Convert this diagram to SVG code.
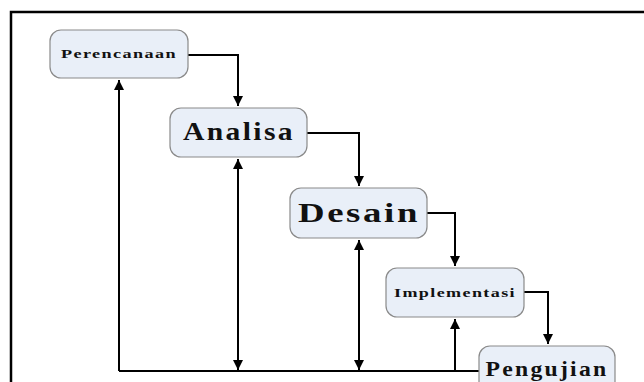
<svg xmlns="http://www.w3.org/2000/svg" width="644" height="382" viewBox="0 0 644 382">
<style>
.box{fill:#e9eff8;stroke:#8a8a8a;stroke-width:1.2}
.t{font-family:"Liberation Serif",serif;font-weight:bold;fill:#111;text-anchor:middle}
.ln{fill:none;stroke:#000;stroke-width:2}
</style>
<defs>
<marker id="ah" viewBox="0 0 10 10" refX="10" refY="5" markerWidth="5.5" markerHeight="5" orient="auto-start-reverse" markerUnits="strokeWidth">
<path d="M0,0 L10,5 L0,10 z" fill="#000"/>
</marker>
</defs>
<rect x="0" y="0" width="644" height="382" fill="#fff"/>
<path d="M11,382 V12 H644" fill="none" stroke="#000" stroke-width="2.5"/>
<g id="connectors">
<path class="ln" d="M188,55 H238 V106" marker-end="url(#ah)"/>
<path class="ln" d="M307,133 H359 V186" marker-end="url(#ah)"/>
<path class="ln" d="M427,213 H455 V266" marker-end="url(#ah)"/>
<path class="ln" d="M524,292 H548 V344" marker-end="url(#ah)"/>
<path class="ln" d="M479,371 H119"/>
<path class="ln" d="M119,371 V80" marker-end="url(#ah)"/>
<path class="ln" d="M238,159 V370" marker-start="url(#ah)" marker-end="url(#ah)"/>
<path class="ln" d="M359,240 V370" marker-start="url(#ah)" marker-end="url(#ah)"/>
<path class="ln" d="M455,371 V319" marker-end="url(#ah)"/>
</g>
<g id="perencanaan">
<rect class="box" x="50" y="30" width="138" height="48" rx="11"/>
<text class="t" x="119" y="58" font-size="13" textLength="116" lengthAdjust="spacingAndGlyphs" letter-spacing="1">Perencanaan</text>
</g>
<g id="analisa">
<rect class="box" x="170" y="108" width="137" height="49" rx="11"/>
<text class="t" x="239" y="140" font-size="25" textLength="112" lengthAdjust="spacingAndGlyphs" letter-spacing="2">Analisa</text>
</g>
<g id="desain">
<rect class="box" x="290" y="188" width="137" height="50" rx="11"/>
<text class="t" x="359" y="222" font-size="28" textLength="122" lengthAdjust="spacingAndGlyphs" letter-spacing="2">Desain</text>
</g>
<g id="implementasi">
<rect class="box" x="386" y="268" width="138" height="49" rx="11"/>
<text class="t" x="455" y="297" font-size="13" textLength="122" lengthAdjust="spacingAndGlyphs" letter-spacing="1">Implementasi</text>
</g>
<g id="pengujian">
<rect class="box" x="479" y="346" width="136" height="50" rx="11"/>
<text class="t" x="547" y="376" font-size="21" textLength="123" lengthAdjust="spacingAndGlyphs" letter-spacing="2">Pengujian</text>
</g>
</svg>
